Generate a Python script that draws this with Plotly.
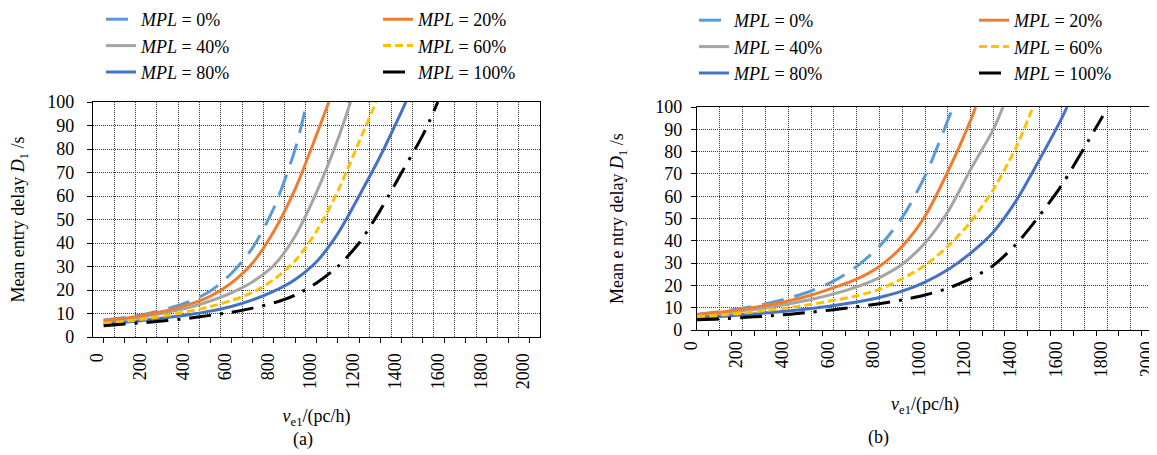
import plotly.graph_objects as go

# ---------------- data ----------------
series_labels = ["<i>MPL</i> = 0%", "<i>MPL</i> = 20%", "<i>MPL</i> = 40%",
                 "<i>MPL</i> = 60%", "<i>MPL</i> = 80%", "<i>MPL</i> = 100%"]

# panel (a)
a_v_0 = [0, 100, 200, 300, 400, 500, 600, 700, 800, 900, 955]
a_d_0 = [7.2, 8.3, 9.8, 12, 15, 19.5, 27, 38, 55, 80, 100]
a_v_20 = [0, 100, 200, 300, 400, 500, 600, 700, 800, 900, 1000, 1058]
a_d_20 = [7, 8, 9.5, 11.3, 13.8, 17.3, 23, 31.5, 45, 63, 86, 100]
a_v_40 = [0, 100, 200, 300, 400, 500, 600, 700, 800, 900, 1000, 1100, 1160]
a_d_40 = [6.5, 7.5, 8.8, 10.5, 12.5, 15.3, 18.8, 23.5, 30.5, 43, 61.5, 84, 100]
a_v_60 = [0, 100, 200, 300, 400, 500, 600, 700, 800, 900, 1000, 1100, 1200, 1280]
a_d_60 = [5.8, 6.7, 7.8, 9.2, 10.9, 12.9, 15.5, 19, 24.5, 32.5, 45, 62, 83, 100]
a_v_80 = [0, 100, 200, 300, 400, 500, 600, 700, 800, 900, 1000, 1100, 1200, 1300, 1400, 1420]
a_d_80 = [5.5, 6.3, 7.2, 8.3, 9.5, 11, 13, 15.8, 19.5, 24.5, 32, 44, 60, 77, 96, 100]
a_v_100 = [0, 100, 200, 300, 400, 500, 600, 700, 800, 900, 1000, 1100, 1200, 1300, 1400, 1500, 1570]
a_d_100 = [4.8, 5.5, 6.2, 7, 8, 9.2, 10.5, 12.3, 14.5, 17.8, 23, 30, 40, 54, 70, 86, 100]

# panel (b)
b_v_0 = [0, 100, 200, 300, 400, 500, 600, 700, 800, 900, 1000, 1100, 1115]
b_d_0 = [7, 8.2, 9.8, 11.7, 14.2, 17.5, 22, 28.5, 37.5, 50.5, 69, 94, 98]
b_v_20 = [0, 100, 200, 300, 400, 500, 600, 700, 800, 900, 1000, 1100, 1200, 1222]
b_d_20 = [7, 8, 9.3, 11, 13, 15.6, 19, 22.8, 28.5, 37.5, 51, 71, 94, 100]
b_v_40 = [0, 100, 200, 300, 400, 500, 600, 700, 800, 900, 1000, 1100, 1200, 1300, 1342]
b_d_40 = [6.5, 7.3, 8.5, 10, 11.7, 13.7, 16.2, 19.3, 23.5, 29.5, 39, 53, 72, 90, 100]
b_v_60 = [0, 100, 200, 300, 400, 500, 600, 700, 800, 900, 1000, 1100, 1200, 1300, 1400, 1474]
b_d_60 = [6, 6.7, 7.6, 8.7, 10, 11.5, 13.3, 15.3, 18.2, 23, 29, 37.5, 48.5, 63, 82, 100]
b_v_80 = [0, 100, 200, 300, 400, 500, 600, 700, 800, 900, 1000, 1100, 1200, 1300, 1400, 1500, 1600, 1623]
b_d_80 = [5.5, 6.1, 6.8, 7.6, 8.5, 9.6, 11, 12.6, 14.6, 17.4, 21.5, 27, 34.5, 44, 58, 76, 95, 100]
b_v_100 = [0, 100, 200, 300, 400, 500, 600, 700, 800, 900, 1000, 1100, 1200, 1300, 1400, 1500, 1600, 1700, 1780]
b_d_100 = [4.6, 5, 5.6, 6.2, 7, 8, 9.1, 10.4, 11.8, 13.5, 15.7, 18.7, 23, 29, 38.5, 51, 65, 82, 96]

x_tick_vals = list(range(0, 2001, 100))
x_tick_text = [str(v) if v % 200 == 0 else "" for v in x_tick_vals]
y_tick_vals = list(range(0, 101, 10))

# ---------------- styles ----------------
colors = ["#5B9BD5", "#ED7D31", "#A5A5A5", "#FFC000", "#4472C4", "#000000"]
dashes = ["22px,11px", "solid", "solid", "8px,4px", "solid", "22px,9px,3px,9px"]
FONT = '"Liberation Serif", "Times New Roman", serif'

a_data = [(a_v_0, a_d_0), (a_v_20, a_d_20), (a_v_40, a_d_40),
          (a_v_60, a_d_60), (a_v_80, a_d_80), (a_v_100, a_d_100)]
b_data = [(b_v_0, b_d_0), (b_v_20, b_d_20), (b_v_40, b_d_40),
          (b_v_60, b_d_60), (b_v_80, b_d_80), (b_v_100, b_d_100)]

# legend columns: even index -> left column, odd -> right column
a_legends = ["legend", "legend2"]
b_legends = ["legend3", "legend4"]

fig = go.Figure()
for col in range(2):
    for i in range(col, 6, 2):
        xs, ys = a_data[i]
        fig.add_trace(go.Scatter(x=xs, y=ys, mode="lines", name=series_labels[i],
                                 line=dict(color=colors[i], width=3, dash=dashes[i], shape="spline", smoothing=0.8),
                                 xaxis="x", yaxis="y", legend=a_legends[col]))
for col in range(2):
    for i in range(col, 6, 2):
        xs, ys = b_data[i]
        fig.add_trace(go.Scatter(x=xs, y=ys, mode="lines", name=series_labels[i],
                                 line=dict(color=colors[i], width=3, dash=dashes[i], shape="spline", smoothing=0.8),
                                 xaxis="x2", yaxis="y2", legend=b_legends[col]))

W, H = 1157, 455
grid_col = "#3a3a3a"
grid_dash = "1px,1px"
tickfont = dict(family=FONT, size=18, color="black")
titlefont = dict(family=FONT, size=18, color="black")
legfont = dict(family=FONT, size=18, color="black")

common_x = dict(showline=True, linecolor="black", linewidth=1.3, mirror=True,
                tickmode="array", tickvals=x_tick_vals, ticktext=x_tick_text,
                tickangle=-90, tickfont=tickfont, zeroline=False, ticklen=5,
                tickcolor="black", automargin=False, ticklabelshift=-6,
                ticklabelstandoff=3)
common_y = dict(showline=True, linecolor="black", linewidth=1.3, mirror=True,
                range=[0, 100], tickmode="array", tickvals=y_tick_vals,
                ticks="outside", ticklen=5, tickcolor="black", tickfont=tickfont,
                showgrid=True, gridcolor=grid_col, griddash=grid_dash, gridwidth=1,
                zeroline=False, automargin=False)


def leg(xpx, ypx):
    return dict(orientation="v", x=xpx / W, xanchor="left", y=1 - ypx / H, yanchor="top",
                font=legfont, bgcolor="rgba(0,0,0,0)", itemwidth=30, borderwidth=0)


fig.update_layout(
    width=W, height=H, margin=dict(l=0, r=0, t=0, b=0, autoexpand=False),
    paper_bgcolor="white", plot_bgcolor="white",
    font=dict(family=FONT, color="black"),
    xaxis=dict(common_x, domain=[85 / W, 532 / W], range=[-50, 2050], anchor="y",
               ticks="outside", showgrid=False,
               minor=dict(tickmode="linear", tick0=50, dtick=100, showgrid=True,
                          gridcolor=grid_col, griddash=grid_dash, gridwidth=1, ticks=""),
               title=dict(text="<i>v</i><sub>e1</sub>/(pc/h)", font=titlefont, standoff=21)),
    yaxis=dict(common_y, domain=[(H - 329) / H, (H - 94) / H], anchor="x",
               ticklabelstandoff=9,
               title=dict(text="Mean entry delay <i>D</i><sub>1</sub> /s", font=titlefont, standoff=26)),
    xaxis2=dict(common_x, domain=[689 / W, 1145 / W], range=[0, 2000], anchor="y2",
                ticks="", showgrid=True, gridcolor=grid_col, griddash=grid_dash, gridwidth=1,
                minor=dict(tickmode="linear", tick0=50, dtick=100, showgrid=False,
                           ticks="outside", ticklen=5, tickcolor="black"),
                title=dict(text="<i>v</i><sub>e1</sub>/(pc/h)", font=titlefont, standoff=21)),
    yaxis2=dict(common_y, domain=[(H - 322) / H, (H - 99) / H], anchor="x2",
                ticklabelstandoff=5,
                title=dict(text="Mean e ntry delay <i>D</i><sub>1</sub> /s", font=titlefont, standoff=26)),
    legend=leg(93, -7),
    legend2=leg(370, -7),
    legend3=leg(686, -6),
    legend4=leg(966, -6),
    annotations=[
        dict(text="(a)", x=283 / W, y=(H - 444) / H, xref="paper", yref="paper",
             showarrow=False, font=titlefont),
        dict(text="(b)", x=883 / W, y=(H - 442) / H, xref="paper", yref="paper",
             showarrow=False, font=titlefont),
    ],
)

fig.write_html("out.html")
